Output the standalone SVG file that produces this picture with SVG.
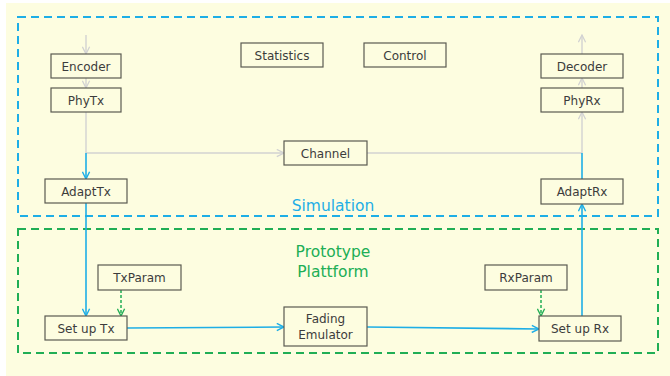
<svg xmlns="http://www.w3.org/2000/svg" width="670" height="376" viewBox="0 0 670 376">
  <defs>
    <style>
      .node rect { fill: #fdfde0; stroke: #5a5a50; stroke-width: 1.2; }
      .node text { font-family: "DejaVu Sans", "Liberation Sans", sans-serif; font-size: 12px; fill: #3c3c3c; text-anchor: middle; }
      .grey { fill: none; stroke: #d2d2d2; stroke-width: 1.4; }
      .blue { fill: none; stroke: #1eaee6; stroke-width: 1.6; }
      .param { fill: none; stroke: #20ae55; stroke-width: 1.5; stroke-dasharray: 3 2; }
      .zone-sim { fill: none; stroke: #1eaee6; stroke-width: 2; stroke-dasharray: 8 5; }
      .zone-proto { fill: none; stroke: #20ae55; stroke-width: 2; stroke-dasharray: 8 5; }
      .zone-label { font-family: "DejaVu Sans", "Liberation Sans", sans-serif; font-size: 15.5px; text-anchor: middle; }
    </style>
    <marker id="arrGrey" viewBox="0 0 10 10" refX="9" refY="5" markerWidth="9" markerHeight="9" markerUnits="userSpaceOnUse" orient="auto">
      <path d="M1,1 L9,5 L1,9" fill="none" stroke="#d2d2d2" stroke-width="1.4"/>
    </marker>
    <marker id="arrBlue" viewBox="0 0 10 10" refX="9" refY="5" markerWidth="9" markerHeight="9" markerUnits="userSpaceOnUse" orient="auto">
      <path d="M1,1 L9,5 L1,9" fill="none" stroke="#1eaee6" stroke-width="1.6"/>
    </marker>
    <marker id="arrGreen" viewBox="0 0 10 10" refX="9" refY="5" markerWidth="9" markerHeight="9" markerUnits="userSpaceOnUse" orient="auto">
      <path d="M1,1 L9,5 L1,9" fill="none" stroke="#20ae55" stroke-width="1.5"/>
    </marker>
  </defs>

  <!-- page background -->
  <rect x="6" y="3" width="664" height="373" fill="#fdfde0"/>

  <!-- zones -->
  <g id="zone-simulation">
    <rect class="zone-sim" x="18" y="17" width="640" height="199"/>
    <text class="zone-label" x="333" y="211" fill="#1eaee6">Simulation</text>
  </g>
  <g id="zone-prototype">
    <rect class="zone-proto" x="18" y="229" width="640" height="124"/>
    <text class="zone-label" x="333" y="257" fill="#20ae55">Prototype</text>
    <text class="zone-label" x="333" y="277" fill="#20ae55">Plattform</text>
  </g>

  <!-- connectors -->
  <g id="connectors">
    <line class="grey" x1="86" y1="35" x2="86" y2="54" marker-end="url(#arrGrey)"/>
    <line class="grey" x1="86" y1="78" x2="86" y2="88" marker-end="url(#arrGrey)"/>
    <line class="grey" x1="86" y1="112" x2="86" y2="153"/>
    <line class="grey" x1="86" y1="153" x2="284" y2="153" marker-end="url(#arrGrey)"/>
    <line class="blue" x1="86" y1="153" x2="86" y2="179" marker-end="url(#arrBlue)"/>
    <line class="grey" x1="367" y1="153" x2="582" y2="153"/>
    <line class="grey" x1="582" y1="153" x2="582" y2="112" marker-end="url(#arrGrey)"/>
    <line class="grey" x1="582" y1="88" x2="582" y2="78" marker-end="url(#arrGrey)"/>
    <line class="grey" x1="582" y1="54" x2="582" y2="35" marker-end="url(#arrGrey)"/>
    <line class="blue" x1="582" y1="179" x2="582" y2="153"/>
    <line class="blue" x1="86" y1="203" x2="86" y2="316" marker-end="url(#arrBlue)"/>
    <line class="param" x1="121" y1="290" x2="121" y2="316" marker-end="url(#arrGreen)"/>
    <line class="blue" x1="127" y1="328" x2="284" y2="327" marker-end="url(#arrBlue)"/>
    <line class="blue" x1="367" y1="327" x2="539" y2="329" marker-end="url(#arrBlue)"/>
    <line class="param" x1="541" y1="290" x2="541" y2="316" marker-end="url(#arrGreen)"/>
    <line class="blue" x1="582" y1="316" x2="582" y2="204" marker-end="url(#arrBlue)"/>
  </g>

  <!-- nodes -->
  <g id="encoder" class="node"><rect x="51" y="54" width="70" height="24"/><text x="86" y="71">Encoder</text></g>
  <g id="phytx" class="node"><rect x="51" y="88" width="70" height="24"/><text x="86" y="105">PhyTx</text></g>
  <g id="statistics" class="node"><rect x="241" y="43" width="82" height="24"/><text x="282" y="60">Statistics</text></g>
  <g id="control" class="node"><rect x="364" y="43" width="82" height="24"/><text x="405" y="60">Control</text></g>
  <g id="decoder" class="node"><rect x="541" y="54" width="82" height="24"/><text x="582" y="71">Decoder</text></g>
  <g id="phyrx" class="node"><rect x="541" y="88" width="82" height="24"/><text x="582" y="105">PhyRx</text></g>
  <g id="channel" class="node"><rect x="284" y="141" width="83" height="24"/><text x="325.5" y="158">Channel</text></g>
  <g id="adapttx" class="node"><rect x="45" y="179" width="82" height="24"/><text x="86" y="196">AdaptTx</text></g>
  <g id="adaptrx" class="node"><rect x="541" y="179" width="82" height="25"/><text x="582" y="196">AdaptRx</text></g>
  <g id="txparam" class="node"><rect x="98" y="265" width="83" height="25"/><text x="139.5" y="282">TxParam</text></g>
  <g id="rxparam" class="node"><rect x="485" y="265" width="82" height="25"/><text x="526" y="282">RxParam</text></g>
  <g id="setuptx" class="node"><rect x="45" y="316" width="82" height="24"/><text x="86" y="333">Set up Tx</text></g>
  <g id="fading" class="node"><rect x="284" y="307" width="83" height="39"/><text x="325.5" y="323">Fading</text><text x="325.5" y="339">Emulator</text></g>
  <g id="setuprx" class="node"><rect x="539" y="316" width="82" height="25"/><text x="580" y="333">Set up Rx</text></g>
</svg>
